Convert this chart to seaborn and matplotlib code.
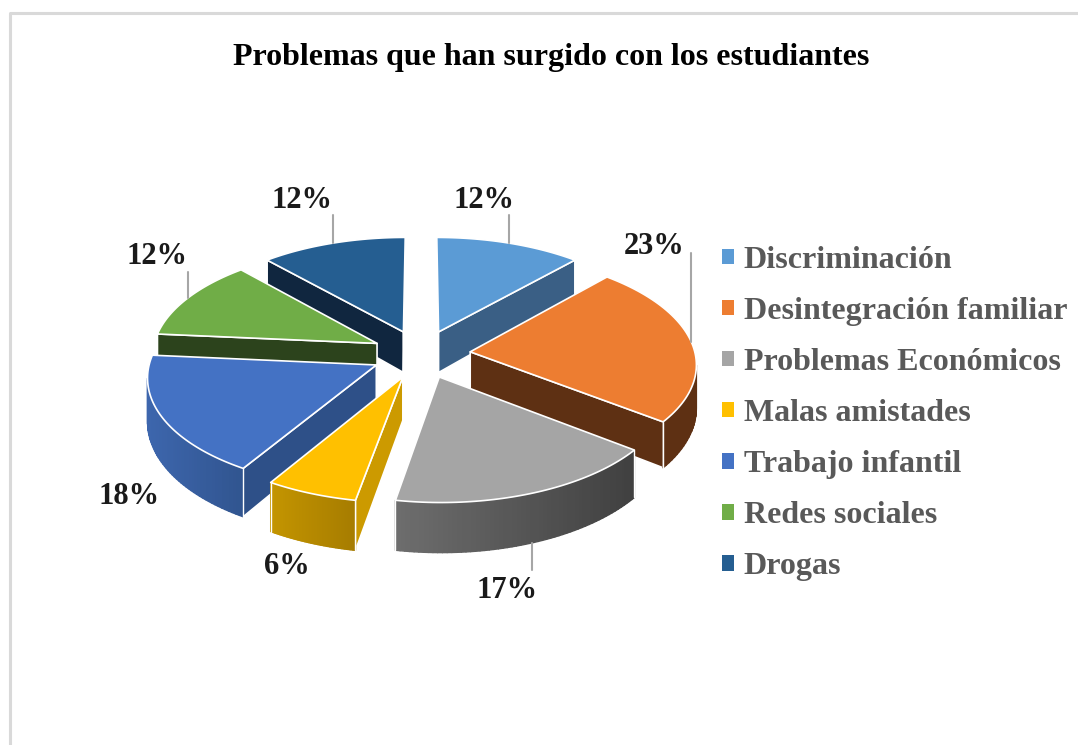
'''
exploded 3d pie chart, problems reported with students
'''
import numpy as np
import seaborn as sns
import matplotlib.pyplot as plt
from matplotlib.colors import to_rgb
from matplotlib.patches import Patch

categories = ['Discriminación', 'Desintegración familiar', 'Problemas Económicos',
              'Malas amistades', 'Trabajo infantil', 'Redes sociales', 'Drogas']
shares = [11.8, 23.5, 17.6, 5.9, 17.6, 11.8, 11.8]
pct_labels = ['12%', '23%', '17%', '6%', '18%', '12%', '12%']
title = 'Problemas que han surgido con los estudiantes'

top_colors = ['#5b9bd5', '#ed7d31', '#a5a5a5', '#ffc000', '#4472c4', '#70ad47', '#255e91']
cut_colors = ['#3a5f85', '#5e3013', '#3f3f3f', '#cc9a00', '#2e5088', '#2c431c', '#10263f']
wall_left = ['#3a5f85', '#5e3013', '#6e6e6e', '#c49500', '#3d66ad', '#2c431c', '#10263f']
wall_right = ['#3a5f85', '#5e3013', '#404040', '#a67c00', '#315590', '#2c431c', '#10263f']

# pie geometry in pixels
CX, CY = 421, 354
RX, RY = 225, 110
PERSP = 0.10
EXPLODE = 0.22
DEPTH = 42
DEPTH_PERSP = 0.16

label_xy = [(484, 201), (654, 247), (507, 590), (287, 567), (129, 497), (157, 257), (302, 201)]
leader_end = {0: 215, 1: 253, 2: 570, 5: 272, 6: 215}


def project(x, y):
    '''ground point of the unit disc to screen pixels, returns top point'''
    s = 1 + PERSP * y
    return CX + RX * x * s, CY + RY * y * s


def drop(x, y):
    return DEPTH * (1 + DEPTH_PERSP * y)


def draw_face(ax, pts, color, lw=1.2, edge='white'):
    xs, ys = zip(*pts)
    ax.fill(xs, ys, facecolor=color, edgecolor=edge, linewidth=lw, joinstyle='round')


def draw_wedge(ax, i, a0, a1):
    mid = (a0 + a1) / 2
    ex, ey = EXPLODE * np.sin(mid), -EXPLODE * np.cos(mid)
    theta = np.linspace(a0, a1, 60)
    rim = [(ex + np.sin(t), ey - np.cos(t)) for t in theta]
    apex = (ex, ey)

    def wall(p, q, color, lw=1.2, edge='white'):
        a, b = project(*p), project(*q)
        if b[0] >= a[0]:
            return
        draw_face(ax, [a, b, (b[0], b[1] + drop(*q)), (a[0], a[1] + drop(*p))], color, lw, edge)

    # flat cuts
    wall(apex, rim[0], cut_colors[i])
    wall(rim[-1], apex, cut_colors[i])

    # curved outside, shaded left to right
    c0, c1 = np.array(to_rgb(wall_left[i])), np.array(to_rgb(wall_right[i]))
    front = [k for k in range(len(rim) - 1) if project(*rim[k + 1])[0] < project(*rim[k])[0]]
    if front:
        x_right = project(*rim[front[0]])[0]
        x_left = project(*rim[front[-1] + 1])[0]
        for k in front:
            frac = (project(*rim[k])[0] - x_left) / (x_right - x_left)
            col = c0 + (c1 - c0) * frac
            wall(rim[k], rim[k + 1], col, 1.0, col)
        # white line on the real corners only, not on the curve's outline
        for k in (0, len(rim) - 1):
            if k == front[0] or k == front[-1] + 1:
                x, y = project(*rim[k])
                ax.plot([x, x], [y, y + drop(*rim[k])], color='white', lw=1.0)

    pts = [project(*apex)] + [project(*p) for p in rim]
    draw_face(ax, pts, top_colors[i])

    # leader line going out from the rim
    if i in leader_end:
        p = (ex + np.sin(mid), ey - np.cos(mid))
        x, y = project(*p)
        if np.cos(mid) < 0:
            y += drop(*p)
        ax.plot([x, x], [y, leader_end[i]], color='#a6a6a6', lw=1.5, zorder=5)


def main():
    sns.set_theme(style='white')
    plt.rcParams['font.family'] = ['Liberation Serif', 'DejaVu Serif']
    palette = sns.color_palette(top_colors)

    fig = plt.figure(figsize=(10.78, 7.45), dpi=100)
    ax = fig.add_axes([0, 0, 1, 1])
    ax.set_xlim(0, 1078)
    ax.set_ylim(745, 0)
    ax.axis('off')

    # chart frame
    ax.plot([10, 10, 1078], [745, 13, 13], color='#d9d9d9', lw=2.2)

    edges = np.cumsum([0] + shares) / sum(shares) * 2 * np.pi
    mids = (edges[:-1] + edges[1:]) / 2
    # paint from back to front
    for i in np.argsort(-np.cos(mids)):
        draw_wedge(ax, i, edges[i], edges[i + 1])

    for lab, (x, y) in zip(pct_labels, label_xy):
        ax.text(x, y, lab, ha='center', va='center', fontsize=22, fontweight='bold',
                color='#1a1a1a', zorder=6)

    ax.text(551, 57, title, ha='center', va='center', fontsize=23, fontweight='bold', color='black')

    handles = [Patch(facecolor=c, edgecolor='none') for c in palette]
    ax.legend(handles, categories, loc='upper left', bbox_to_anchor=(722 / 1078, 1 - 246 / 745),
              frameon=False, prop={'size': 23, 'weight': 'bold'}, labelcolor='#595959',
              handlelength=0.375, handleheight=0.375, handletextpad=0.31,
              labelspacing=0.69, borderpad=0, borderaxespad=0)

    fig.savefig('out.png', dpi=100)


main()
